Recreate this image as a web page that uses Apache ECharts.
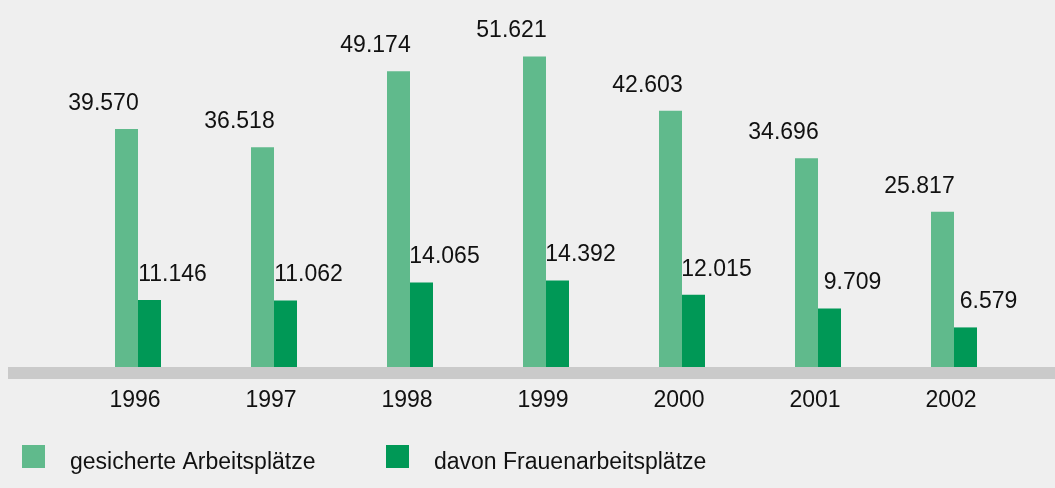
<!DOCTYPE html>
<html>
<head>
<meta charset="utf-8">
<script src="https://cdn.jsdelivr.net/npm/echarts@6/dist/echarts.min.js"></script>
<style>
html,body{margin:0;padding:0;background:#efefef;}
#c{width:1055px;height:488px;}
</style>
</head>
<body>
<div id="c"></div>
<script>
const years = ['1996','1997','1998','1999','2000','2001','2002'];
const seriesNames = ['gesicherte Arbeitsplätze','davon Frauenarbeitsplätze'];
const gesichert = [39570, 36518, 49174, 51621, 42603, 34696, 25817];
const frauen = [11146, 11062, 14065, 14392, 12015, 9709, 6579];

const FONT = "'Liberation Sans', Arial, sans-serif";
const fmt = v => {
  const s = String(v);
  return s.length > 3 ? s.slice(0, s.length - 3) + '.' + s.slice(-3) : s;
};
const chart = echarts.init(document.getElementById('c'), null, {renderer:'canvas'});
const labelBase = {
  show: true, position: 'top', distance: 14,
  fontFamily: FONT, fontSize: 23, color: '#111',
  formatter: p => fmt(p.value)
};
const legendText = {
  fontFamily: FONT, fontSize: 23, color: '#111',
  rich: {a: {fontFamily: FONT, fontSize: 23, color: '#111', padding: [12, 0, 0, 20]}}
};
chart.setOption({
  backgroundColor: '#efefef',
  animation: false,
  grid: {left: 70, right: 33, top: 6, bottom: 121},
  graphic: [{
    type: 'rect', left: 8, top: 367, z: 0,
    shape: {width: 1047, height: 12},
    style: {fill: '#cacaca'}
  }],
  xAxis: {
    type: 'category', data: years,
    axisLine: {show: false}, axisTick: {show: false},
    axisLabel: {fontFamily: FONT, fontSize: 23, color: '#111', margin: 22, padding: [0,6,0,0]}
  },
  yAxis: {
    type: 'value', min: 0, max: 60000,
    show: false, splitLine: {show: false}
  },
  legend: [{
    data: [seriesNames[0]], left: 22, top: 445, padding: 0,
    itemWidth: 23, itemHeight: 23, icon: 'rect',
    formatter: n => '{a|' + n + '}', textStyle: legendText
  },{
    data: [seriesNames[1]], left: 386, top: 445, padding: 0,
    itemWidth: 23, itemHeight: 23, icon: 'rect',
    formatter: n => '{a|' + n + '}', textStyle: legendText
  }],
  series: [{
    name: seriesNames[0], type: 'bar', data: gesichert,
    barWidth: 23, barGap: '0%',
    itemStyle: {color: '#60ba8c'},
    label: Object.assign({}, labelBase, {offset: [-23, 0]})
  },{
    name: seriesNames[1], type: 'bar', data: frauen,
    barWidth: 23, barGap: '0%',
    itemStyle: {color: '#009856'},
    label: Object.assign({}, labelBase, {offset: [23, 0]})
  }]
});
</script>
</body>
</html>
